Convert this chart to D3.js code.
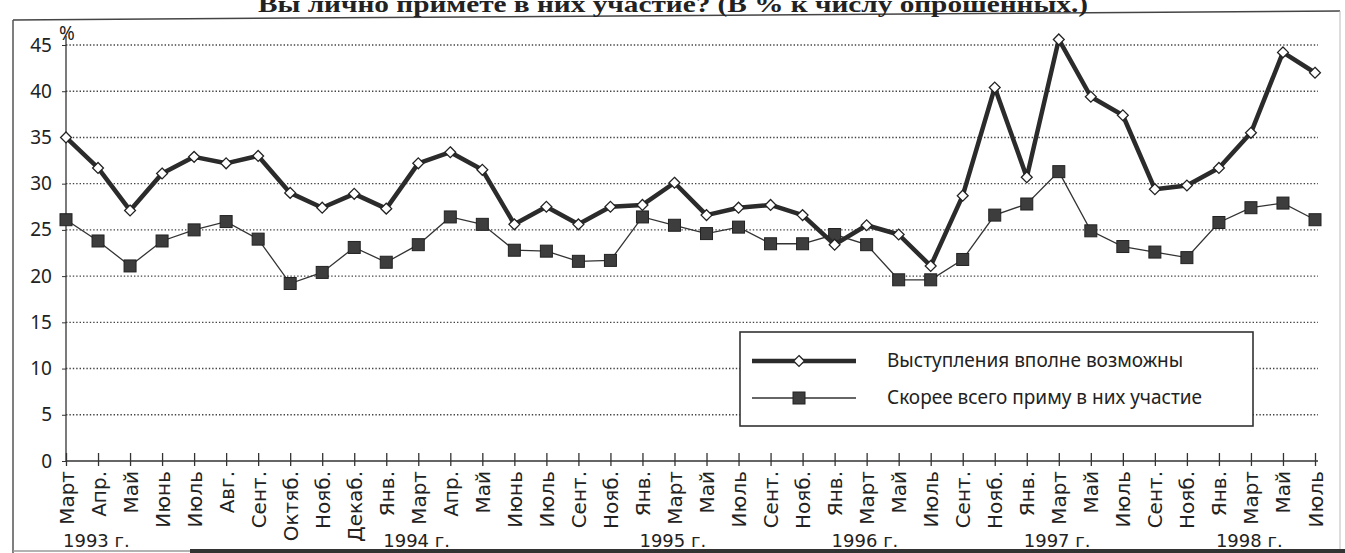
<!DOCTYPE html>
<html>
<head>
<meta charset="utf-8">
<script src="https://cdn.jsdelivr.net/npm/d3@7"></script>
<style>
  body { margin: 0; background: #fff; }
  svg { display: block; }
  .tick text { fill: #222; }
</style>
</head>
<body>
<div id="chart"></div>
<script>
// survey: would you take part in protests personally (% of respondents)

const months = [
  'Март', 'Апр.', 'Май', 'Июнь', 'Июль', 'Авг.', 'Сент.', 'Октяб.', 'Нояб.', 'Декаб.',
  'Янв.', 'Март', 'Апр.', 'Май', 'Июнь', 'Июль', 'Сент.', 'Нояб.',
  'Янв.', 'Март', 'Май', 'Июль', 'Сент.', 'Нояб.',
  'Янв.', 'Март', 'Май', 'Июль', 'Сент.', 'Нояб.',
  'Янв.', 'Март', 'Май', 'Июль', 'Сент.', 'Нояб.',
  'Янв.', 'Март', 'Май', 'Июль'
]

// index of the month where each year label sits
const yearLabels = [
  { at: 0, text: '1993 г.' },
  { at: 10, text: '1994 г.' },
  { at: 18, text: '1995 г.' },
  { at: 24, text: '1996 г.' },
  { at: 30, text: '1997 г.' },
  { at: 36, text: '1998 г.' }
]

const possible = [
  35.0, 31.7, 27.1, 31.1, 32.9, 32.2, 33.0, 29.0, 27.4, 28.9,
  27.3, 32.2, 33.4, 31.5, 25.6, 27.5, 25.6, 27.5,
  27.7, 30.1, 26.6, 27.4, 27.7, 26.6,
  23.4, 25.5, 24.5, 21.1, 28.7, 40.4,
  30.7, 45.6, 39.4, 37.4, 29.4, 29.8,
  31.7, 35.5, 44.2, 42.0
]

const takePart = [
  26.1, 23.8, 21.1, 23.8, 25.0, 25.9, 24.0, 19.2, 20.4, 23.1,
  21.5, 23.4, 26.4, 25.6, 22.8, 22.7, 21.6, 21.7,
  26.4, 25.5, 24.6, 25.3, 23.5, 23.5,
  24.5, 23.4, 19.6, 19.6, 21.8, 26.6,
  27.8, 31.3, 24.9, 23.2, 22.6, 22.0,
  25.8, 27.4, 27.9, 26.1
]

const yTicks = [0, 5, 10, 15, 20, 25, 30, 35, 40, 45]
const legendNames = ['Выступления вполне возможны', 'Скорее всего приму в них участие']
const title = 'Вы лично примете в них участие? (В % к числу опрошенных.)'

const width = 1345
const height = 553

const svg = d3.select('#chart').append('svg')
    .attr('width', width)
    .attr('height', height)

// scanned page frame
svg.append('line')
    .attr('x1', 13).attr('y1', 20).attr('x2', 1340).attr('y2', 11)
    .attr('stroke', '#444').attr('stroke-width', 1.5)
svg.append('line')
    .attr('x1', 13).attr('y1', 20).attr('x2', 13).attr('y2', 553)
    .attr('stroke', '#555').attr('stroke-width', 1.5)
svg.append('line')
    .attr('x1', 1340).attr('y1', 11).attr('x2', 1340).attr('y2', 553)
    .attr('stroke', '#bbb').attr('stroke-width', 1)
svg.append('line')
    .attr('x1', 13).attr('y1', 551).attr('x2', 190).attr('y2', 551)
    .attr('stroke', '#999').attr('stroke-width', 1.5)
svg.append('line')
    .attr('x1', 190).attr('y1', 551).attr('x2', 1345).attr('y2', 551)
    .attr('stroke', '#333').attr('stroke-width', 4)

// title, cut off by the top of the scan
svg.append('text')
    .attr('x', 258)
    .attr('y', 12)
    .attr('textLength', 830)
    .attr('lengthAdjust', 'spacingAndGlyphs')
    .style('font-family', '"Liberation Serif", serif')
    .style('font-size', '24px')
    .style('font-weight', 'bold')
    .style('fill', '#222')
    .text(title)

let xScale = d3.scalePoint()
    .domain(d3.range(months.length))
    .range([66, 1315])

let yScale = d3.scaleLinear()
    .domain([0, 45])
    .range([461, 45])

// dotted gridlines
svg.append('g')
    .selectAll('line')
    .data(yTicks.filter(d => d > 0))
    .join('line')
    .attr('x1', 66)
    .attr('x2', 1318)
    .attr('y1', d => yScale(d))
    .attr('y2', d => yScale(d))
    .attr('stroke', '#444')
    .attr('stroke-width', 1.4)
    .attr('stroke-dasharray', '1.4,2')

let yAxis = d3.axisLeft(yScale)
    .tickValues(yTicks)
    .tickSize(4)
    .tickSizeOuter(0)
    .tickPadding(10)

let yAxisGroup = svg.append('g')
    .attr('class', 'y-axis')
    .attr('transform', 'translate(66,0)')
    .call(yAxis)
yAxisGroup.select('.domain').attr('stroke', '#333').attr('stroke-width', 1.3)
    .attr('d', `M0,${yScale(0)}V36`)
yAxisGroup.selectAll('.tick line').attr('stroke', '#333')
yAxisGroup.selectAll('.tick text')
    .style('font-family', '"Noto Sans", sans-serif')
    .style('font-size', '19px')

svg.append('text')
    .attr('x', 59)
    .attr('y', 40)
    .style('font-family', '"Noto Sans", sans-serif')
    .style('font-size', '19px')
    .style('fill', '#222')
    .text('%')

let xAxis = d3.axisBottom(xScale)
    .tickFormat(i => months[i])
    .tickSizeOuter(0)

let xAxisGroup = svg.append('g')
    .attr('class', 'x-axis')
    .attr('transform', `translate(0,${yScale(0)})`)
    .call(xAxis)
xAxisGroup.select('.domain').attr('stroke', '#333').attr('stroke-width', 1.6)
    .attr('d', `M66,0H1318`)
xAxisGroup.selectAll('.tick line')
    .attr('y1', -8).attr('y2', 5)
    .attr('stroke', '#333').attr('stroke-width', 1.3)
xAxisGroup.selectAll('.tick text')
    .attr('transform', 'rotate(-90)')
    .attr('text-anchor', 'end')
    .attr('x', -10)
    .attr('y', 0)
    .attr('dy', '0.35em')
    .style('font-family', '"DejaVu Sans", sans-serif')
    .style('font-size', '20px')

svg.append('g')
    .selectAll('text')
    .data(yearLabels)
    .join('text')
    .attr('x', d => xScale(d.at) - 3)
    .attr('y', 547)
    .style('font-family', '"DejaVu Sans", sans-serif')
    .style('font-size', '18px')
    .style('fill', '#222')
    .text(d => d.text)

const line = d3.line()
    .x((d, i) => xScale(i))
    .y(d => yScale(d))

const diamond = d3.symbol().type(d3.symbolDiamond2).size(75)

// thin series with squares
svg.append('path')
    .datum(takePart)
    .attr('d', line)
    .attr('fill', 'none')
    .attr('stroke', '#333')
    .attr('stroke-width', 1.3)

svg.append('g')
    .selectAll('rect')
    .data(takePart)
    .join('rect')
    .attr('x', (d, i) => xScale(i) - 6)
    .attr('y', d => yScale(d) - 6)
    .attr('width', 12)
    .attr('height', 12)
    .attr('fill', '#3d3d3d')
    .attr('stroke', '#222')
    .attr('stroke-width', 1)

// thick series with diamonds
svg.append('path')
    .datum(possible)
    .attr('d', line)
    .attr('fill', 'none')
    .attr('stroke', '#2b2b2b')
    .attr('stroke-width', 4.5)
    .attr('stroke-linejoin', 'round')

svg.append('g')
    .selectAll('path')
    .data(possible)
    .join('path')
    .attr('d', diamond)
    .attr('transform', (d, i) => `translate(${xScale(i)},${yScale(d)})`)
    .attr('fill', '#fff')
    .attr('stroke', '#222')
    .attr('stroke-width', 1.3)

// legend
const legend = svg.append('g')

legend.append('rect')
    .attr('x', 740).attr('y', 332)
    .attr('width', 513).attr('height', 94)
    .attr('fill', '#fff')
    .attr('stroke', '#333')
    .attr('stroke-width', 1.6)

legend.append('line')
    .attr('x1', 752).attr('x2', 856).attr('y1', 361).attr('y2', 361)
    .attr('stroke', '#2b2b2b').attr('stroke-width', 4.5)
legend.append('path')
    .attr('d', diamond)
    .attr('transform', 'translate(799,361)')
    .attr('fill', '#fff').attr('stroke', '#222').attr('stroke-width', 1.3)

legend.append('line')
    .attr('x1', 752).attr('x2', 856).attr('y1', 398).attr('y2', 398)
    .attr('stroke', '#333').attr('stroke-width', 1.3)
legend.append('rect')
    .attr('x', 793).attr('y', 392).attr('width', 12).attr('height', 12)
    .attr('fill', '#3d3d3d').attr('stroke', '#222')

legend.selectAll('text')
    .data(legendNames)
    .join('text')
    .attr('x', 887)
    .attr('y', (d, i) => 367 + i * 37)
    .style('font-family', '"Noto Sans", sans-serif')
    .style('font-size', '19px')
    .style('fill', '#222')
    .text(d => d)
</script>
</body>
</html>
